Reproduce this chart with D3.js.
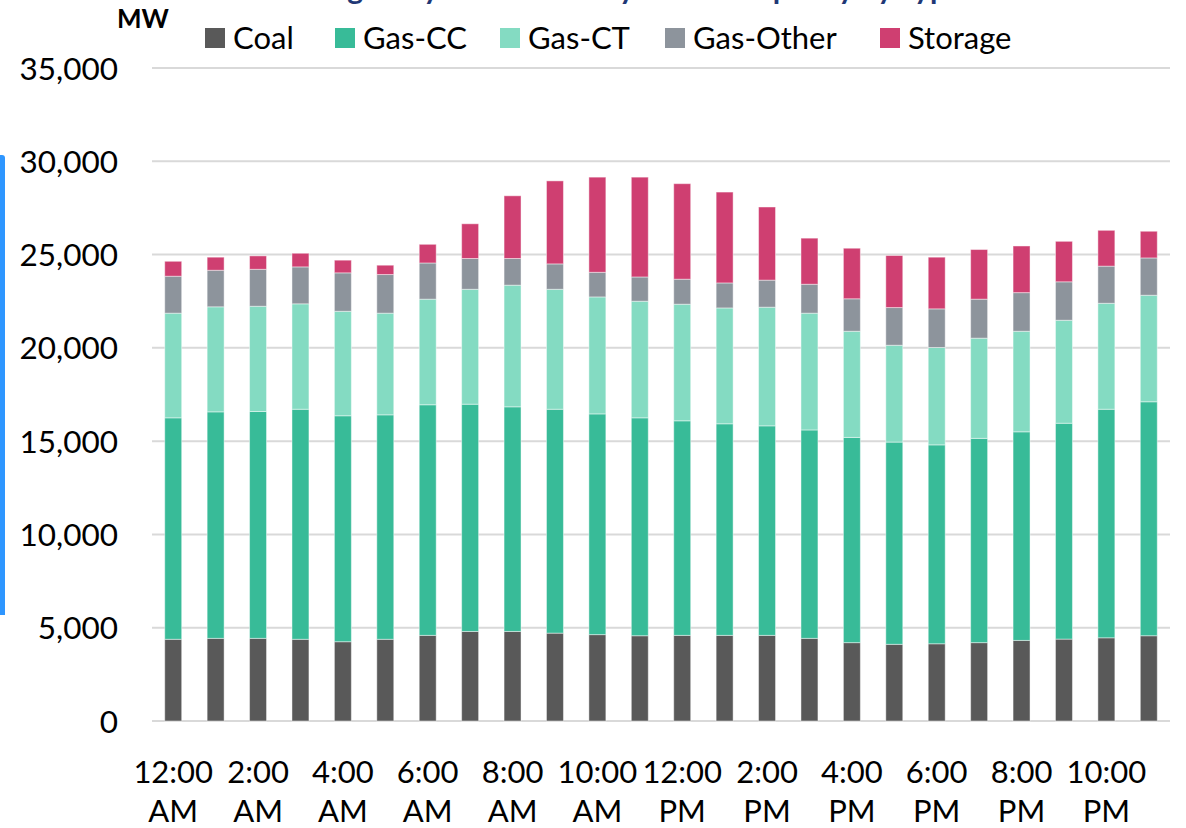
<!DOCTYPE html>
<html><head><meta charset="utf-8">
<script src="https://cdn.jsdelivr.net/npm/d3@7"></script>
<style>
html,body{margin:0;padding:0;background:#fff;}
svg{display:block;}
</style></head>
<body>
<svg id="chart" width="1186" height="828"></svg>
<script>
const hours = ["12:00 AM","1:00 AM","2:00 AM","3:00 AM","4:00 AM","5:00 AM","6:00 AM","7:00 AM","8:00 AM","9:00 AM","10:00 AM","11:00 AM",
  "12:00 PM","1:00 PM","2:00 PM","3:00 PM","4:00 PM","5:00 PM","6:00 PM","7:00 PM","8:00 PM","9:00 PM","10:00 PM","11:00 PM"];
const seriesNames = ["Coal","Gas-CC","Gas-CT","Gas-Other","Storage"];
const coal     = [4380,4430,4430,4380,4250,4380,4590,4800,4800,4710,4630,4570,4590,4590,4590,4430,4200,4110,4140,4200,4320,4390,4460,4570];
const gasCC    = [11870,12140,12160,12330,12110,12030,12360,12180,12040,12000,11830,11680,11500,11340,11230,11170,11000,10840,10660,10950,11180,11570,12250,12540];
const gasCT    = [5610,5630,5640,5650,5600,5450,5660,6160,6520,6430,6270,6250,6250,6210,6360,6260,5690,5190,5220,5370,5390,5520,5680,5710];
const gasOther = [1980,1960,1980,1980,2060,2070,1940,1650,1430,1360,1320,1300,1340,1340,1450,1550,1740,2020,2070,2090,2070,2060,1990,2000];
const storage  = [800,700,720,730,680,500,1000,1860,3360,4450,5100,5350,5120,4870,3920,2470,2710,2790,2770,2660,2500,2170,1920,1430];
const yTicks = [0,5000,10000,15000,20000,25000,30000,35000];
const colors = ["#595959","#38BB98","#84DBC2","#8D949C","#CF3F71"];
const titleText = "Average Day-Ahead Hourly Online Capacity by Type";

(function(){
const svg = d3.select("#chart");
const font = "Lato, 'Open Sans', sans-serif";
const mLeft = 152, mRight = 1170, mTop = 68, mBottom = 721;

const rows = hours.map((h,i)=>({hour:h, "Coal":coal[i], "Gas-CC":gasCC[i], "Gas-CT":gasCT[i], "Gas-Other":gasOther[i], "Storage":storage[i]}));
const stacked = d3.stack().keys(seriesNames)(rows);

const x = d3.scaleBand().domain(hours).range([mLeft,mRight]).paddingInner(0.6).paddingOuter(0.3);
const y = d3.scaleLinear().domain([0,35000]).range([mBottom,mTop]);
const color = d3.scaleOrdinal().domain(seriesNames).range(colors);

// title, cut off at the top edge as in the reference
svg.append("text").attr("x",270).attr("y",-1).attr("font-family",font).attr("font-weight","bold")
  .attr("font-size",30).attr("fill","#1F3876").text(titleText);

// left blue accent bar
svg.append("path").attr("d","M0,155 L2,155 Q5,155 5,158 L5,615 L0,615 Z").attr("fill","#2E96FF");

// gridlines
svg.append("g").selectAll("line").data(yTicks).join("line")
  .attr("x1",mLeft).attr("x2",mRight).attr("y1",d=>y(d)).attr("y2",d=>y(d))
  .attr("stroke","#d9d9d9").attr("stroke-width",2);

// y axis labels
const yAxis = d3.axisLeft(y).tickValues(yTicks).tickSize(0).tickPadding(34).tickFormat(d3.format(","));
const gy = svg.append("g").attr("transform",`translate(${mLeft},0)`).call(yAxis);
gy.select(".domain").remove();
gy.selectAll("text").attr("font-family",font).attr("font-size",31.5).attr("fill","#000").attr("dy","0.35em");

// bars
svg.append("g").selectAll("g").data(stacked).join("g").attr("fill",d=>color(d.key))
  .selectAll("rect").data(d=>d).join("rect")
  .attr("x",d=>x(d.data.hour)).attr("width",x.bandwidth())
  .attr("y",d=>y(d[1])).attr("height",d=>y(d[0])-y(d[1]))
  .attr("stroke","rgba(255,255,255,0.45)").attr("stroke-width",1);

// x axis labels (every other hour, two lines)
const xAxis = d3.axisBottom(x).tickValues(hours.filter((h,i)=>i%2===0)).tickSize(0).tickFormat("");
const gx = svg.append("g").attr("transform",`translate(0,${mBottom})`).call(xAxis);
gx.select(".domain").remove();
gx.selectAll(".tick").each(function(d){
  const parts = d.split(" ");
  const t = d3.select(this).append("text").attr("fill","#000").attr("font-family",font).attr("font-size",31)
    .attr("text-anchor","middle");
  t.append("tspan").attr("x",0).attr("y",62).text(parts[0]);
  t.append("tspan").attr("x",0).attr("y",101).text(parts[1]);
});

// MW label
svg.append("text").attr("x",117).attr("y",28).attr("font-family",font).attr("font-weight","bold")
  .attr("font-size",26).attr("fill","#000").text("MW");

// legend
const legendX = [205,335,500,665,880];
const lg = svg.append("g").selectAll("g").data(seriesNames).join("g")
  .attr("transform",(d,i)=>`translate(${legendX[i]},28)`);
lg.append("rect").attr("width",20).attr("height",20).attr("fill",d=>color(d));
lg.append("text").attr("x",28).attr("y",10).attr("dy","0.36em").attr("font-family",font)
  .attr("font-size",31).attr("fill","#000").text(d=>d);
})();
</script>
</body></html>
